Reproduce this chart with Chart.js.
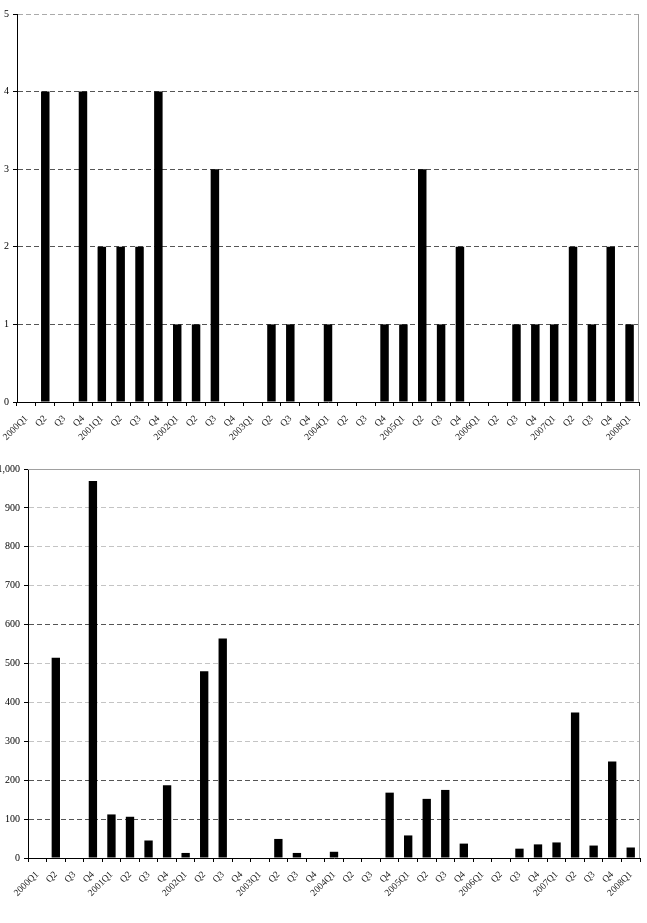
<!DOCTYPE html>
<html>
<head>
<meta charset="utf-8">
<script src="https://cdn.jsdelivr.net/npm/chart.js@4.4.1/dist/chart.umd.min.js"></script>
<style>
  body { margin: 0; background: #fff; }
  .box { position: absolute; left: 0; width: 647px; }
</style>
</head>
<body>
<div class="box" style="top:0;height:450px"><canvas id="countChart"></canvas></div>
<div class="box" style="top:450px;height:473px"><canvas id="valueChart"></canvas></div>
<script>
'use strict';

//***********Data***********
let quarters = [
  '2000Q1', 'Q2', 'Q3', 'Q4',
  '2001Q1', 'Q2', 'Q3', 'Q4',
  '2002Q1', 'Q2', 'Q3', 'Q4',
  '2003Q1', 'Q2', 'Q3', 'Q4',
  '2004Q1', 'Q2', 'Q3', 'Q4',
  '2005Q1', 'Q2', 'Q3', 'Q4',
  '2006Q1', 'Q2', 'Q3', 'Q4',
  '2007Q1', 'Q2', 'Q3', 'Q4',
  '2008Q1'
];

// top panel: number per quarter
let counts = [
  0, 4, 0, 4,
  2, 2, 2, 4,
  1, 1, 3, 0,
  0, 1, 1, 0,
  1, 0, 0, 1,
  1, 3, 1, 2,
  0, 0, 1, 1,
  1, 2, 1, 2,
  1
];

// bottom panel: value per quarter
let values = [
  0, 515, 0, 969,
  112, 106, 45, 187,
  13, 480, 564, 0,
  0, 49, 13, 0,
  16, 0, 0, 168,
  58, 152, 175, 37,
  0, 0, 24, 35,
  40, 374, 32, 248,
  27
];

let countMax = 5;
let countStep = 1;
let valueMax = 1000;
let valueStep = 100;
let valueDarkLines = [100, 200, 600];

//***********Shared styles***********
let serif = "'Liberation Serif', 'Times New Roman', serif";
let darkGrid = '#555555';
let lightGrid = '#c4c4c4';
let frameGrey = '#a0a0a0';

// draws the grey plot frame on the right (and top if asked)
let framePlugin = {
  id: 'frame',
  afterDraw(chart, args, opts) {
    let a = chart.chartArea;
    let ctx = chart.ctx;
    ctx.save();
    ctx.strokeStyle = frameGrey;
    ctx.lineWidth = 1;
    ctx.beginPath();
    if (opts.top) {
      ctx.moveTo(a.left, a.top + 0.5);
      ctx.lineTo(a.right, a.top + 0.5);
    }
    ctx.moveTo(a.right - 0.5, a.top);
    ctx.lineTo(a.right - 0.5, a.bottom);
    ctx.stroke();
    ctx.restore();
  }
};

function makeChart(canvasId, data, max, step, gridColor, axisWidth, xHeight, pad, frameTop) {
  let ctx = document.getElementById(canvasId).getContext('2d');
  return new Chart(ctx, {
    type: 'bar',
    data: {
      labels: quarters,
      datasets: [{
        data: data,
        backgroundColor: '#000000',
        borderWidth: 0,
        barPercentage: 0.45,
        categoryPercentage: 1
      }]
    },
    plugins: [framePlugin],
    options: {
      responsive: true,
      maintainAspectRatio: false,
      animation: false,
      layout: { padding: pad },
      plugins: {
        legend: { display: false },
        tooltip: { enabled: false },
        frame: { top: frameTop }
      },
      scales: {
        x: {
          offset: true,
          grid: {
            offset: true,
            drawOnChartArea: false,
            tickLength: 4,
            tickColor: '#000000'
          },
          border: { color: '#000000', width: 1 },
          ticks: {
            autoSkip: false,
            maxRotation: 45,
            minRotation: 45,
            padding: 7,
            color: '#222222',
            font: { family: serif, size: 9.5 }
          },
          afterFit: function (scale) {
            scale.height = xHeight;
            // let the first rotated label run to the canvas edge like the original
            scale.paddingLeft = 0;
          }
        },
        y: {
          min: 0,
          max: max,
          grid: {
            color: gridColor,
            lineWidth: 1,
            tickLength: 4,
            tickColor: '#000000'
          },
          border: { color: '#000000', width: 1, dash: [5, 3] },
          ticks: {
            stepSize: step,
            padding: 4,
            color: '#000000',
            font: { family: serif, size: 10 }
          },
          afterFit: function (scale) { scale.width = axisWidth; }
        }
      }
    }
  });
}

//***********Render***********
makeChart('countChart', counts, countMax, countStep, function (c) {
  let v = c.tick ? c.tick.value : 0;
  if (v === 0) return 'rgba(0,0,0,0)';
  if (v === countMax) return '#aaaaaa';
  return darkGrid;
}, 17, 48, { top: 14, right: 8, left: 0, bottom: 0 }, false);

makeChart('valueChart', values, valueMax, valueStep, function (c) {
  let v = c.tick ? c.tick.value : 0;
  if (v === 0 || v === valueMax) return 'rgba(0,0,0,0)';
  if (valueDarkLines.includes(v)) return darkGrid;
  return lightGrid;
}, 28, 65, { top: 19, right: 7, left: 0, bottom: 0 }, true);
</script>
</body>
</html>
